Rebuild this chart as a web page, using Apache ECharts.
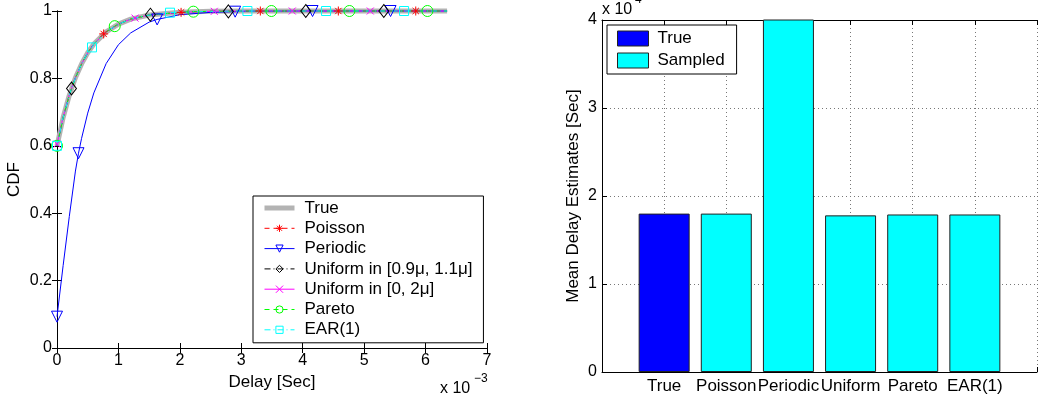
<!DOCTYPE html>
<html><head><meta charset="utf-8">
<script src="https://cdn.jsdelivr.net/npm/echarts@6/dist/echarts.min.js"></script>
<style>html,body{margin:0;padding:0;background:#fff}#c{width:1040px;height:401px}</style>
</head><body><div id="c"></div>
<script>
// ---------- Left panel: CDF of delay (x in units of 1e-3 s) ----------
const cdfX        = [0, 0.1, 0.2, 0.3, 0.4, 0.5, 0.6, 0.8, 1.0, 1.2, 1.5, 2.0, 2.5, 3.0, 4.0, 5.0, 6.35];
const trueCdf     = [0.600, 0.684, 0.750, 0.802, 0.843, 0.876, 0.902, 0.938, 0.961, 0.976, 0.988, 0.996, 0.999, 1.0, 1.0, 1.0, 1.0];
const poissonCdf  = [0.600, 0.684, 0.750, 0.802, 0.843, 0.876, 0.902, 0.938, 0.961, 0.976, 0.988, 0.996, 0.999, 1.0, 1.0, 1.0, 1.0];
const periodicCdf = [0.093, 0.245, 0.390, 0.525, 0.622, 0.697, 0.757, 0.844, 0.900, 0.935, 0.967, 0.989, 0.996, 0.999, 1.0, 1.0, 1.0];
const unif09Cdf   = [0.600, 0.684, 0.750, 0.802, 0.843, 0.876, 0.902, 0.938, 0.961, 0.976, 0.988, 0.996, 0.999, 1.0, 1.0, 1.0, 1.0];
const unif02Cdf   = [0.605, 0.686, 0.751, 0.802, 0.843, 0.876, 0.902, 0.938, 0.961, 0.976, 0.988, 0.996, 0.999, 1.0, 1.0, 1.0, 1.0];
const paretoCdf   = [0.600, 0.684, 0.750, 0.802, 0.843, 0.876, 0.902, 0.938, 0.961, 0.976, 0.988, 0.996, 0.999, 1.0, 1.0, 1.0, 1.0];
const earCdf      = [0.600, 0.684, 0.750, 0.802, 0.843, 0.876, 0.902, 0.938, 0.961, 0.976, 0.988, 0.996, 0.999, 1.0, 1.0, 1.0, 1.0];

// marker positions [delay (1e-3 s), CDF]
const poissonMarks  = [[0.76, 0.932], [2.02, 0.996], [3.31, 1.0], [4.58, 1.0], [5.84, 1.0]];
const periodicMarks = [[0, 0.093], [0.35, 0.578], [1.63, 0.975], [2.90, 0.998], [4.16, 1.0], [5.43, 1.0]];
const unif09Marks   = [[0.236, 0.770], [1.52, 0.989], [2.79, 0.999], [4.05, 1.0], [5.32, 1.0]];
const unif02Marks   = [[0, 0.605], [1.27, 0.979], [2.56, 0.999], [3.83, 1.0], [5.10, 1.0]];
const paretoMarks   = [[0, 0.600], [0.94, 0.955], [2.22, 0.998], [3.49, 1.0], [4.76, 1.0], [6.03, 1.0]];
const earMarks      = [[0, 0.600], [0.57, 0.892], [1.84, 0.995], [3.10, 1.0], [4.38, 1.0], [5.65, 1.0]];

const cdfXTicks = [0, 1, 2, 3, 4, 5, 6, 7];
const cdfYTicks = [0, 0.2, 0.4, 0.6, 0.8, 1];

// ---------- Right panel: mean delay estimates (units of 1e-4 s) ----------
const barCategories = ['True', 'Poisson', 'Periodic', 'Uniform', 'Pareto', 'EAR(1)'];
const trueMean      = [1.80, null, null, null, null, null];
const sampledMeans  = [null, 1.80, 4.60, 1.78, 1.79, 1.79];
const barYTicks     = [0, 1, 2, 3, 4];

const FONT = "'Liberation Sans', Arial, Helvetica, sans-serif";

function buildData(xs, ys, marks) {
  const pts = xs.map((x, i) => ({ value: [x, ys[i]], symbol: 'none' }));
  marks.forEach(m => pts.push({ value: [m[0], m[1]] }));
  pts.sort((a, b) => a.value[0] - b.value[0]);
  return pts;
}

const STAR = 'path://M10,0L10,20M0,10L20,10M3,3L17,17M3,17L17,3';
const CROSS = 'path://M0,0L20,20M0,20L20,0';

function lineSeries(name, xs, ys, marks, color, type, symbol, size, rotate) {
  return {
    type: 'line', name, xAxisIndex: 0, yAxisIndex: 0,
    data: buildData(xs, ys, marks),
    symbol, symbolSize: size, symbolRotate: rotate || 0,
    showAllSymbol: true, clip: false, animation: false,
    lineStyle: { color, width: 1, type },
    itemStyle: { color: 'rgba(0,0,0,0)', borderColor: color, borderWidth: 1 }
  };
}

const numStyle = { color: '#000', fontSize: 16, fontFamily: FONT };
const txtStyle = { color: '#000', fontSize: 17, fontFamily: FONT };
const axisLineBlack = { show: true, lineStyle: { color: '#000', width: 1 } };
const tickIn = { show: true, inside: true, length: 5, lineStyle: { color: '#000' } };

const chart = echarts.init(document.getElementById('c'), null, { renderer: 'canvas' });

const option = {
  backgroundColor: '#fff',
  animation: false,
  textStyle: { fontFamily: FONT },
  grid: [
    { left: 57, top: 11, width: 430, height: 337, containLabel: false },
    { left: 602, top: 20, width: 446, height: 352, containLabel: false }
  ],
  xAxis: [
    { type: 'value', gridIndex: 0, min: 0, max: 7, interval: 1, position: 'bottom',
      axisLine: axisLineBlack, axisTick: tickIn, splitLine: { show: false },
      axisLabel: Object.assign({ margin: 5, formatter: v => cdfXTicks.includes(v) ? String(v) : '' }, numStyle),
      name: 'Delay [Sec]', nameLocation: 'middle', nameGap: 24, nameTextStyle: txtStyle },
    { type: 'value', gridIndex: 0, min: 0, max: 7, interval: 1, position: 'top',
      axisLine: axisLineBlack, axisTick: tickIn, axisLabel: { show: false }, splitLine: { show: false } },
    { type: 'value', gridIndex: 1, min: 0, max: 7, interval: 1, position: 'bottom',
      axisLine: axisLineBlack, axisTick: tickIn,
      splitLine: { show: true, lineStyle: { color: '#777', width: 1, type: [1, 3] } },
      axisLabel: Object.assign({ margin: 6, formatter: v => (v >= 1 && v <= barCategories.length) ? barCategories[v - 1] : '' }, txtStyle) },
    { type: 'value', gridIndex: 1, min: 0, max: 7, interval: 1, position: 'top',
      axisLine: axisLineBlack, axisTick: tickIn, axisLabel: { show: false }, splitLine: { show: false } }
  ],
  yAxis: [
    { type: 'value', gridIndex: 0, min: 0, max: 1, interval: 0.2, position: 'left',
      axisLine: axisLineBlack, axisTick: tickIn, splitLine: { show: false },
      axisLabel: Object.assign({ margin: 5, formatter: v => String(+v.toFixed(1)) }, numStyle),
      name: 'CDF', nameLocation: 'middle', nameGap: 34, nameRotate: 90, nameTextStyle: txtStyle },
    { type: 'value', gridIndex: 0, min: 0, max: 1, interval: 0.2, position: 'right',
      axisLine: axisLineBlack, axisTick: tickIn, axisLabel: { show: false }, splitLine: { show: false } },
    { type: 'value', gridIndex: 1, min: 0, max: 4, interval: 1, position: 'left',
      axisLine: axisLineBlack, axisTick: tickIn,
      splitLine: { show: true, lineStyle: { color: '#777', width: 1, type: [1, 3] } },
      axisLabel: Object.assign({ margin: 5, formatter: v => barYTicks.includes(v) ? String(v) : '' }, numStyle),
      name: 'Mean Delay Estimates [Sec]', nameLocation: 'middle', nameGap: 20, nameRotate: 90, nameTextStyle: txtStyle }
  ],
  legend: [
    { orient: 'vertical', left: 253, top: 196,
      data: [
        { name: 'True', lineStyle: { width: 5 }, itemStyle: { opacity: 0 } },
        { name: 'Poisson', lineStyle: { width: 1 } },
        { name: 'Periodic', lineStyle: { width: 1 } },
        { name: 'Uniform in [0.9μ, 1.1μ]', lineStyle: { width: 1 } },
        { name: 'Uniform in [0, 2μ]', lineStyle: { width: 1 } },
        { name: 'Pareto', lineStyle: { width: 1 } },
        { name: 'EAR(1)', lineStyle: { width: 1 } }
      ],
      itemWidth: 30, itemHeight: 9, itemGap: 0.3,
      padding: [2, 11, 3, 9],
      backgroundColor: '#fff', borderColor: '#000', borderWidth: 1,
      itemStyle: { borderWidth: 1 },
      selectedMode: false,
      textStyle: { color: '#000', fontSize: 17, fontFamily: FONT, lineHeight: 20, padding: [0, 0, 0, 5] } },
    { orient: 'vertical', left: 607, top: 25,
      data: ['True ', 'Sampled'],
      icon: 'rect', itemWidth: 31, itemHeight: 15, itemGap: 5,
      padding: [5, 12, 5, 10],
      backgroundColor: '#fff', borderColor: '#000', borderWidth: 1,
      itemStyle: { borderWidth: 1 },
      selectedMode: false,
      textStyle: { color: '#000', fontSize: 17, fontFamily: FONT, lineHeight: 15, padding: [0, 0, 0, 4] } }
  ],
  graphic: [
    { type: 'text', left: 440, top: 381, style: { text: 'x 10', font: '16px ' + FONT, fill: '#000' } },
    { type: 'text', left: 474, top: 373, style: { text: '−3', font: '12px ' + FONT, fill: '#000' } },
    { type: 'text', left: 602, top: 2, style: { text: 'x 10', font: '16px ' + FONT, fill: '#000' } },
    { type: 'text', left: 628, top: -6, style: { text: '−4', font: '12px ' + FONT, fill: '#000' } }
  ],
  series: [
    { type: 'line', name: 'True', xAxisIndex: 0, yAxisIndex: 0,
      data: cdfX.map((x, i) => [x, trueCdf[i]]), symbol: 'none', clip: false,
      lineStyle: { color: '#b3b3b3', width: 5 }, itemStyle: { color: '#b3b3b3' } },
    lineSeries('Poisson', cdfX, poissonCdf, poissonMarks, '#ff0000', [5, 4], STAR, 9),
    lineSeries('Periodic', cdfX, periodicCdf, periodicMarks, '#0000ff', 'solid', 'triangle', 11, 180),
    lineSeries('Uniform in [0.9μ, 1.1μ]', cdfX, unif09Cdf, unif09Marks, '#000000', [6, 3, 1, 3], 'diamond', [10, 13]),
    lineSeries('Uniform in [0, 2μ]', cdfX, unif02Cdf, unif02Marks, '#ff00ff', 'solid', CROSS, 7),
    lineSeries('Pareto', cdfX, paretoCdf, paretoMarks, '#00ff00', [5, 4], 'circle', 11),
    lineSeries('EAR(1)', cdfX, earCdf, earMarks, '#00ffff', [6, 3, 1, 3], 'rect', 9),
    { type: 'bar', name: 'True ', xAxisIndex: 2, yAxisIndex: 2, stack: 'm', barWidth: 51,
      data: trueMean.map((v, i) => [i + 1, v]),
      itemStyle: { color: '#0000ff', borderColor: '#222', borderWidth: 1 } },
    { type: 'bar', name: 'Sampled', xAxisIndex: 2, yAxisIndex: 2, stack: 'm', barWidth: 51,
      data: sampledMeans.map((v, i) => [i + 1, v]),
      itemStyle: { color: '#00ffff', borderColor: '#222', borderWidth: 1 } }
  ]
};
chart.setOption(option);
</script>
</body></html>
